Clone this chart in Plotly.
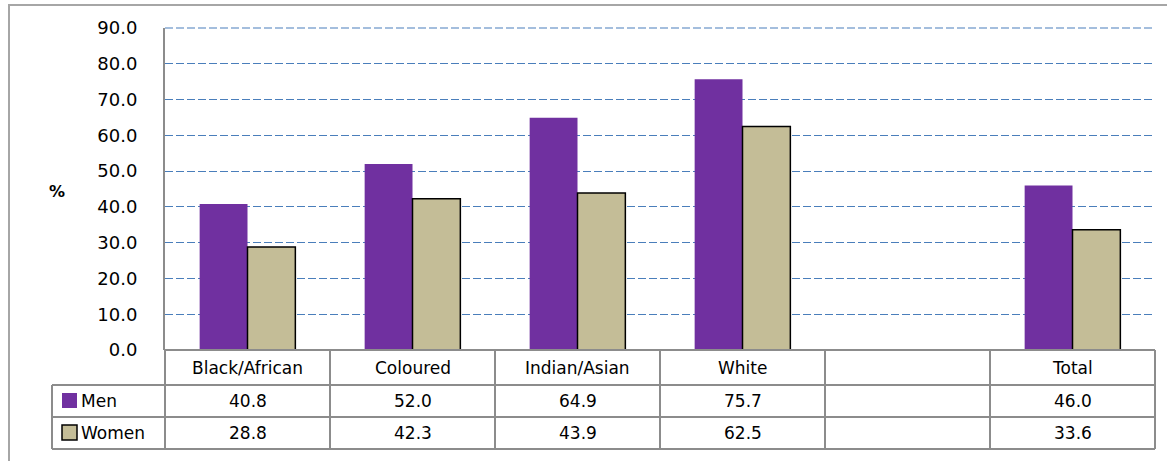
import plotly.graph_objects as go

categories = ["Black/African", "Coloured", "Indian/Asian", "White", "", "Total"]
men = [40.8, 52.0, 64.9, 75.7, None, 46.0]
women = [28.8, 42.3, 43.9, 62.5, None, 33.6]
series_names = ["Men", "Women"]
y_ticks = [0, 10, 20, 30, 40, 50, 60, 70, 80, 90]

MEN_C = "#7030A0"
WOMEN_C = "#C4BD97"
LINE_C = "#8C8C8C"
GRID_C = "#4A7EBB"
FONT = "DejaVu Sans"

W, H = 1167, 461
L, R, T, B = 165, 12, 28, 111
PW, PH = W - L - R, H - T - B
n = len(categories)

def px2x(px):
    return (px - L) / PW

def py2y(py):
    return (H - B - py) / PH

xs = list(range(n))
fig = go.Figure()
fig.add_trace(go.Bar(x=xs, y=men, name=series_names[0], marker=dict(color=MEN_C, line=dict(width=0))))
fig.add_trace(go.Bar(x=xs, y=women, name=series_names[1], marker=dict(color=WOMEN_C, line=dict(color="black", width=1.5))))

shapes = []
shapes.append(dict(type="rect", xref="paper", yref="paper", x0=px2x(9), x1=px2x(1175), y0=py2y(470), y1=py2y(5),
                   line=dict(color="#A6A6A6", width=2), layer="below"))
# top gridline (at range end), not clipped
shapes.append(dict(type="line", xref="paper", yref="paper", x0=0, x1=1, y0=1, y1=1,
                   line=dict(color=GRID_C, width=1.2, dash="8px,3px"), layer="below"))
row_top = H - B
row_h = [35, 32, 32]
y_header_bot = row_top + row_h[0]
y_men_bot = y_header_bot + row_h[1]
y_women_bot = y_men_bot + row_h[2]
leg_left = 52
shapes.append(dict(type="line", xref="paper", yref="paper", x0=0, x1=1, y0=0, y1=0, line=dict(color=LINE_C, width=2)))
for yy in [y_header_bot, y_men_bot, y_women_bot]:
    shapes.append(dict(type="line", xref="paper", yref="paper", x0=px2x(leg_left), x1=1, y0=py2y(yy), y1=py2y(yy),
                       line=dict(color=LINE_C, width=2)))
for k in range(n + 1):
    shapes.append(dict(type="line", xref="paper", yref="paper", x0=k / n, x1=k / n, y0=0, y1=py2y(y_women_bot),
                       line=dict(color=LINE_C, width=2)))
shapes.append(dict(type="line", xref="paper", yref="paper", x0=px2x(leg_left), x1=px2x(leg_left),
                   y0=py2y(y_header_bot), y1=py2y(y_women_bot), line=dict(color=LINE_C, width=2)))
for j, (c, lw) in enumerate([(MEN_C, 0), (WOMEN_C, 1.5)]):
    top = y_header_bot + j * row_h[1] + 8
    shapes.append(dict(type="rect", xref="paper", yref="paper", x0=px2x(62), x1=px2x(77), y0=py2y(top + 15), y1=py2y(top),
                       fillcolor=c, line=dict(color="black", width=lw) if lw else dict(width=0)))

annotations = []
tf = dict(family=FONT, size=17, color="black")
for i, cat in enumerate(categories):
    annotations.append(dict(x=i, xref="x", y=py2y(row_top + row_h[0] / 2), yref="paper", text=cat, showarrow=False,
                            font=tf, xanchor="center", yanchor="middle"))
    for j, vals in enumerate([men, women]):
        v = vals[i]
        txt = "" if v is None else f"{v:.1f}"
        yc = y_header_bot + j * row_h[1] + row_h[1] / 2
        annotations.append(dict(x=i, xref="x", y=py2y(yc), yref="paper", text=txt, showarrow=False, font=tf,
                                xanchor="center", yanchor="middle"))
for j, nm in enumerate(series_names):
    yc = y_header_bot + j * row_h[1] + row_h[1] / 2
    annotations.append(dict(x=px2x(79), xref="paper", xanchor="left", y=py2y(yc), yref="paper", yanchor="middle",
                            text=nm, showarrow=False, font=tf))
annotations.append(dict(x=px2x(57), xref="paper", y=py2y(191), yref="paper", text="<b>%</b>", showarrow=False,
                        xanchor="center", yanchor="middle", font=dict(family=FONT, size=16, color="black")))

fig.update_layout(
    width=W, height=H,
    margin=dict(l=L, r=R, t=T, b=B, autoexpand=False),
    paper_bgcolor="white", plot_bgcolor="white",
    barmode="group", bargap=0.42, bargroupgap=0,
    showlegend=False,
    shapes=shapes, annotations=annotations,
    xaxis=dict(range=[-0.5, n - 0.5], showticklabels=False, showgrid=False, zeroline=False, showline=False, ticks=""),
    yaxis=dict(range=[0, 90], tickvals=y_ticks, ticktext=[f"{v:.1f}" for v in y_ticks],
               tickfont=dict(family=FONT, size=18, color="black"),
               ticks="outside", ticklen=22, tickcolor="rgba(0,0,0,0)",
               showgrid=True, gridcolor=GRID_C, griddash="8px,3px", gridwidth=1.2,
               zeroline=False, showline=True, linecolor=LINE_C, linewidth=2),
)
fig.write_html("out.html", config={"displayModeBar": False},
               post_script="document.body.style.margin='0';document.body.style.overflow='hidden';")
